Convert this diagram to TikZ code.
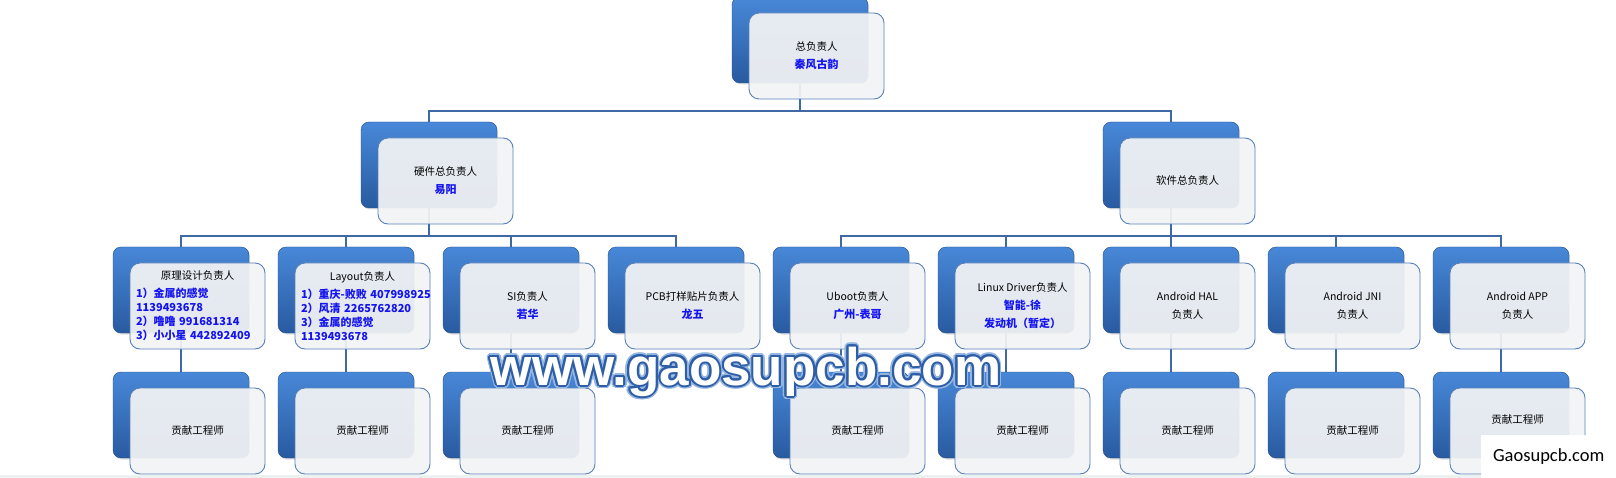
\documentclass[tikz,border=0pt]{standalone}
\usepackage{fontspec}
\setmainfont{Noto Sans CJK SC}
\newfontfamily\wmfont{Liberation Sans}
\newfontfamily\tagfont{Carlito}
\usetikzlibrary{shadows,backgrounds}

\definecolor{lineblue}{RGB}{63,105,165}
\definecolor{boxtop}{RGB}{72,136,216}
\definecolor{boxbot}{RGB}{40,90,160}
\definecolor{cardfill}{RGB}{243,244,245}
\definecolor{cardedge}{RGB}{88,128,186}
\definecolor{namblue}{RGB}{20,20,240}
\definecolor{wmedge}{RGB}{46,94,166}
\definecolor{wmglow}{RGB}{150,182,226}
\definecolor{barcol}{RGB}{236,242,242}

\tikzset{
  backbox/.style={draw=boxbot!85!black, line width=0.4pt, rounded corners=8pt,
    top color=boxtop, bottom color=boxbot, minimum width=136pt, minimum height=86pt,
    inner sep=0pt, drop shadow={opacity=0.25, shadow xshift=1pt, shadow yshift=-1.5pt}},
  card/.style={draw=cardedge, line width=0.9pt, rounded corners=10pt, fill=cardfill,
    fill opacity=0.93, text opacity=1, minimum width=135pt, minimum height=86pt,
    align=center, font=\fontsize{10.5}{18}\selectfont},
  listcard/.style={card, text width=123pt, inner sep=6pt, align=left,
    font=\fontsize{10.5}{14}\selectfont},
  conn/.style={draw=lineblue, line width=1.6pt},
}
\newcommand{\who}[1]{{\fontsize{11}{14}\selectfont\bfseries\color{namblue}\mbox{#1}}}
\newcommand{\wmtext}{{\wmfont\bfseries\fontsize{53}{60}\selectfont www.gaosupcb.com}}

\begin{document}
\begin{tikzpicture}[x=1pt, y=-1pt]
  \useasboundingbox (0,0) rectangle (1616,478);
  \coordinate (bar1) at (0,111);
  \coordinate (bar2) at (0,236);

  % top two levels
  \node[backbox] (top-b) at (800,40) {};
  \node[card] (top) at ([shift={(16.5,16)}]top-b) {总负责人\\\who{秦风古韵}};
  \node[backbox] (hw-b) at (429,165) {};
  \node[card] (hw) at ([shift={(16.5,16)}]hw-b) {硬件总负责人\\\who{易阳}};
  \node[backbox] (sw-b) at (1171,165) {};
  \node[card] (sw) at ([shift={(16.5,16)}]sw-b) {软件总负责人};

  % third level
  \foreach \i in {1,...,9} {
    \pgfmathsetmacro{\cx}{181+165*(\i-1)}
    \node[backbox] (mid-b\i) at (\cx,290) {};
  }
  \node[listcard] (mid1) at ([shift={(16.5,16)}]mid-b1) {\makebox[123pt]{原理设计负责人}\\[4pt]
    \who{1）金属的感觉}\\\who{1139493678}\\\who{2）噜噜 991681314}\\\who{3）小小星 442892409}};
  \node[listcard] (mid2) at ([shift={(16.5,16)}]mid-b2) {\makebox[123pt]{Layout负责人}\\[4pt]
    \who{1）重庆-败败 407998925}\\\who{2）风清 2265762820}\\\who{3）金属的感觉}\\\who{1139493678}};
  \node[card] (mid3) at ([shift={(16.5,16)}]mid-b3) {SI负责人\\\who{若华}};
  \node[card] (mid4) at ([shift={(16.5,16)}]mid-b4) {PCB打样贴片负责人\\\who{龙五}};
  \node[card] (mid5) at ([shift={(16.5,16)}]mid-b5) {Uboot负责人\\\who{广州-表哥}};
  \node[card] (mid6) at ([shift={(16.5,16)}]mid-b6) {Linux Driver负责人\\\who{智能-徐}\\\who{发动机（暂定）}};
  \node[card] (mid7) at ([shift={(16.5,16)}]mid-b7) {Android HAL\\负责人};
  \node[card] (mid8) at ([shift={(16.5,16)}]mid-b8) {Android JNI\\负责人};
  \node[card] (mid9) at ([shift={(16.5,16)}]mid-b9) {Android APP\\负责人};

  % fourth level
  \foreach \i in {1,2,3,5,6,7,8,9} {
    \pgfmathsetmacro{\cx}{181+165*(\i-1)}
    \node[backbox] (low-b\i) at (\cx,415) {};
  }
  \foreach \i in {1,2,3,5,6,7,8} {
    \node[card] (low\i) at ([shift={(16.5,16)}]low-b\i) {贡献工程师};
  }
  \node[card] (low9) at ([shift={(16.5,16)}]low-b9) {贡献工程师\\\strut};

  % connectors, under the boxes
  \begin{pgfonlayer}{background}
    \fill[white] (0,0) rectangle (1616,478);
    \draw[conn] (top-b.south) -- (top-b.south |- bar1) -| (hw-b.north);
    \draw[conn] (top-b.south |- bar1) -| (sw-b.north);
    \foreach \i in {1,...,4}
      \draw[conn] (hw-b.south) -- (hw-b.south |- bar2) -| (mid-b\i.north);
    \foreach \i in {5,...,9}
      \draw[conn] (sw-b.south) -- (sw-b.south |- bar2) -| (mid-b\i.north);
    \foreach \i in {1,2,3,5,6,7,8,9}
      \draw[conn] (mid-b\i.south) -- (low-b\i.north);
  \end{pgfonlayer}

  % watermark
  \coordinate (wm-at) at (746,385);
  \foreach \a in {0,22.5,...,337.5}
    \node[anchor=base, text=wmglow, inner sep=0pt] at ([shift={(\a:3.6)}]wm-at) {\wmtext};
  \foreach \a in {0,22.5,...,337.5}
    \node[anchor=base, text=wmedge, inner sep=0pt] at ([shift={(\a:2)}]wm-at) {\wmtext};
  \node[anchor=base, text=white, inner sep=0pt] (wm) at (wm-at) {\wmtext};

  \fill[barcol] (0,475) rectangle (1616,478);
  \node[fill=white, anchor=north west, minimum width=135pt, minimum height=43pt,
    font=\tagfont\fontsize{18.5}{20}\selectfont] (tag) at (1481,435) {Gaosupcb.com};
\end{tikzpicture}
\end{document}
